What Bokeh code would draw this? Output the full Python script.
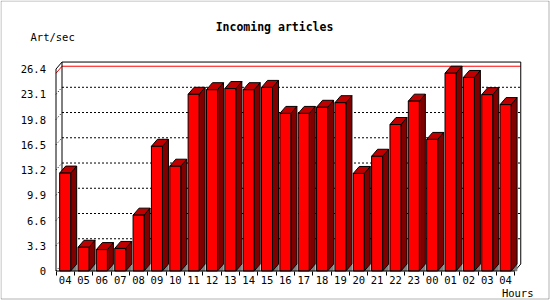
from bokeh.plotting import figure
from bokeh.models import Range1d, FixedTicker, Label, BoxAnnotation
from bokeh.embed import file_html
from bokeh.resources import INLINE

# ---- data ----
hours = ["04", "05", "06", "07", "08", "09", "10", "11", "12", "13", "14", "15",
         "16", "17", "18", "19", "20", "21", "22", "23", "00", "01", "02", "03", "04"]
values = [12.8, 3.1, 2.8, 2.95, 7.3, 16.3, 13.7, 23.1, 23.7, 23.85, 23.7, 24.0,
          20.6, 20.6, 21.4, 22.0, 12.75, 15.0, 19.15, 22.2, 17.2, 25.85, 25.3, 23.05, 21.75]
y_ticks = [0, 3.3, 6.6, 9.9, 13.2, 16.5, 19.8, 23.1, 26.4]
y_tick_labels = ["0", "3.3", "6.6", "9.9", "13.2", "16.5", "19.8", "23.1", "26.4"]
y_max = 26.4
title_text = "Incoming articles"
y_label = "Art/sec"
x_label = "Hours"

# ---- layout (pixels) ----
W, H = 550, 300
OX, OY = 55.5, 270.5                   # front origin in canvas px
KX, KY = 18.35, 7.65                   # px per category / per unit
DX, DY = 6 / KX, 7 / KY                # 3D depth offset in data units
BL, BW = 0.2, 0.6                      # bar front offset / width within slot
n = len(values)
FONT = "DejaVu Sans Mono"

p = figure(width=W, height=H,
           x_range=Range1d(-OX / KX, (W - OX) / KX),
           y_range=Range1d(-(H - OY) / KY, OY / KY),
           output_backend="svg", toolbar_location=None,
           min_border=0)
p.title.visible = False
p.background_fill_color = "white"
p.border_fill_color = "white"
p.outline_line_color = None
p.xgrid.visible = False
p.ygrid.visible = False

# back wall dotted grid + dotted diagonals on left wall
grid_vals = [t for t in y_ticks if t < y_max]
p.multi_line(xs=[[DX, n + DX] for g in grid_vals if g > 0],
             ys=[[g + DY, g + DY] for g in grid_vals if g > 0],
             line_color="black", line_width=1, line_dash="2 2")
p.multi_line(xs=[[0, DX] for g in grid_vals],
             ys=[[g, g + DY] for g in grid_vals],
             line_color="black", line_width=1, line_dash="1 2")

# max line
m = max(values)
p.line([0, DX, n + DX], [m, m + DY, m + DY], line_color="red", line_width=1)

# walls outline
wx = [[0, 0], [0, DX], [DX, n + DX], [n + DX, n + DX], [n + DX, n], [DX, DX]]
wy = [[0, y_max], [y_max, y_max + DY], [y_max + DY, y_max + DY],
      [y_max + DY, DY], [DY, 0], [DY, y_max + DY]]
p.multi_line(xs=wx, ys=wy, line_color="black", line_width=1)

xl = [i + BL for i in range(n)]
xr = [i + BL + BW for i in range(n)]

# shadows
p.patches(xs=[[r, r + DX, r + DX] for r in xr],
          ys=[[0, DY, 0] for r in xr],
          fill_color="#808080", line_color="#808080", line_width=0.5)
# sides
p.patches(xs=[[r, r + DX, r + DX, r] for r in xr],
          ys=[[0, DY, v + DY, v] for v in values],
          fill_color="#800000", line_color="black", line_width=1)
# tops
p.patches(xs=[[l, l + DX, r + DX, r] for l, r in zip(xl, xr)],
          ys=[[v, v + DY, v + DY, v] for v in values],
          fill_color="#c00000", line_color="black", line_width=1)
# fronts
p.quad(left=xl, right=xr, bottom=0, top=values,
       fill_color="#ff0000", line_color="black", line_width=1)

# front bottom edge
p.line([0, n], [0, 0], line_color="black", line_width=1)

# axes (placed inside the canvas at the front origin)
ya = p.yaxis[0]
ya.fixed_location = 0
ya.ticker = FixedTicker(ticks=y_ticks)
ya.major_label_overrides = dict(zip(y_ticks, y_tick_labels))
ya.axis_line_color = None
ya.major_tick_line_color = None
ya.minor_tick_line_color = None
ya.major_label_standoff = 4
ya.major_label_text_font = FONT
ya.major_label_text_font_size = "10.5px"
ya.major_label_text_color = "black"

xa = p.xaxis[0]
xa.fixed_location = 0
xa.ticker = FixedTicker(ticks=[i + 0.5 for i in range(n)], minor_ticks=list(range(n + 1)))
xa.major_label_overrides = {i + 0.5: h for i, h in enumerate(hours)}
xa.axis_line_color = None
xa.major_tick_line_color = None
xa.minor_tick_line_color = "black"
xa.minor_tick_in = 0
xa.minor_tick_out = 4
xa.major_label_standoff = -1
xa.major_label_text_font = FONT
xa.major_label_text_font_size = "10.5px"
xa.major_label_text_color = "black"

# texts (screen units relative to the frame, which is the whole canvas)
p.add_layout(Label(x=274, y=H - 26.7, x_units="screen", y_units="screen",
                   text=title_text, text_align="center", text_baseline="middle",
                   text_font=FONT, text_font_style="bold", text_font_size="11.5px",
                   text_color="black"))
p.add_layout(Label(x=30, y=H - 36.7, x_units="screen", y_units="screen",
                   text=y_label, text_align="left", text_baseline="middle",
                   text_font=FONT, text_font_size="10.5px", text_color="black"))
p.add_layout(Label(x=533, y=H - 292, x_units="screen", y_units="screen",
                   text=x_label, text_align="right", text_baseline="middle",
                   text_font=FONT, text_font_size="10.5px", text_color="black"))

# outer frame
p.add_layout(BoxAnnotation(left=0.5, right=548.5, top=H - 0.5, bottom=H - 298.5,
                           left_units="screen", right_units="screen",
                           top_units="screen", bottom_units="screen",
                           fill_color=None, line_color="black", line_width=1))

open("out.html", "w").write(file_html(p, INLINE))
